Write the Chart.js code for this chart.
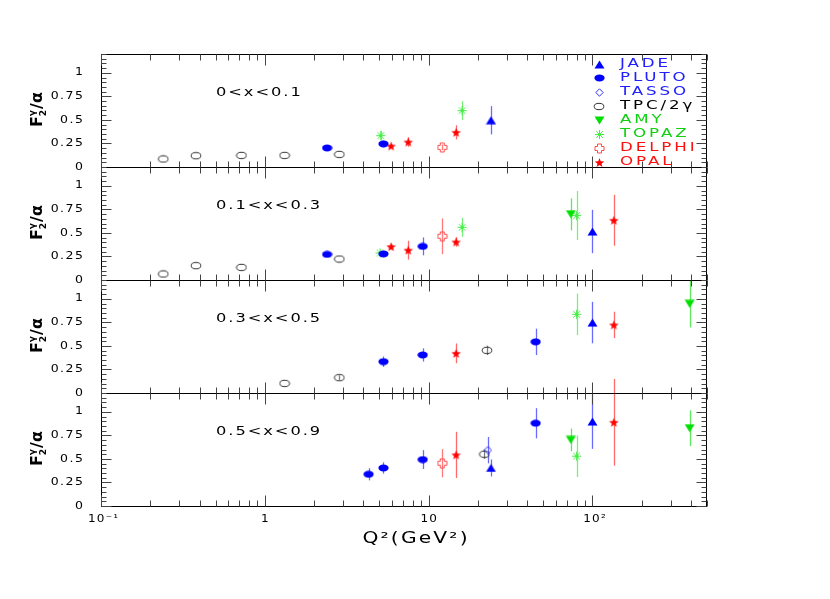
<!DOCTYPE html>
<html><head><meta charset="utf-8">
<script src="https://cdn.jsdelivr.net/npm/chart.js@4"></script>
<style>html,body{margin:0;padding:0;background:#fff;}#wrap{width:830px;height:599px;position:relative;}</style>
</head><body><div id="wrap"><canvas id="c" width="830" height="599"></canvas></div>
<script>
// ---------- data ----------
const BIN_LABELS = ['0<x<0.1', '0.1<x<0.3', '0.3<x<0.5', '0.5<x<0.9'];
const X_TICK_VALUES = [0.1, 1, 10, 100];
const X_TICK_LABELS = ['10⁻¹', '1', '10', '10²'];
const Y_TICK_VALUES = [0, 0.25, 0.5, 0.75, 1];
const Y_TICK_LABELS = ['0', '0.25', '0.5', '0.75', '1'];
const EXPERIMENTS = ['JADE', 'PLUTO', 'TASSO', 'TPC/2γ', 'AMY', 'TOPAZ', 'DELPHI', 'OPAL'];

const JADE_BIN = [0, 1, 2, 3, 3];
const JADE_Q2  = [24, 100, 100, 24, 100];
const JADE_F2  = [0.496, 0.515, 0.748, 0.404, 0.897];
const JADE_ERR = [0.15, 0.23, 0.22, 0.09, 0.29];

const PLUTO_BIN = [0, 0, 1, 1, 1, 2, 2, 2, 3, 3, 3, 3];
const PLUTO_Q2  = [2.4, 5.3, 2.4, 5.3, 9.2, 5.3, 9.2, 45, 4.3, 5.3, 9.2, 45];
const PLUTO_F2  = [0.202, 0.245, 0.272, 0.277, 0.357, 0.333, 0.404, 0.543, 0.337, 0.404, 0.493, 0.879];
const PLUTO_ERR = [0, 0.035, 0, 0.03, 0.095, 0.055, 0.07, 0.14, 0.065, 0.06, 0.1, 0.16];

const TASSO_BIN = [3];
const TASSO_Q2  = [23];
const TASSO_F2  = [0.593];
const TASSO_ERR = [0.14];

const TPC_BIN = [0, 0, 0, 0, 0, 1, 1, 1, 1, 2, 2, 2, 3];
const TPC_Q2  = [0.24, 0.38, 0.72, 1.32, 2.85, 0.24, 0.38, 0.72, 2.85, 1.32, 2.85, 22.7, 21.9];
const TPC_F2  = [0.085, 0.12, 0.123, 0.123, 0.134, 0.064, 0.152, 0.134, 0.223, 0.102, 0.163, 0.453, 0.55];
const TPC_ERR = [0, 0, 0, 0, 0, 0, 0, 0, 0, 0, 0.025, 0.05, 0.05];

const AMY_BIN = [1, 2, 3, 3];
const AMY_Q2  = [73.8, 392, 73.8, 392];
const AMY_F2  = [0.698, 0.947, 0.702, 0.826];
const AMY_ERR = [0.17, 0.25, 0.12, 0.19];

const TOPAZ_BIN = [0, 0, 1, 1, 1, 2, 3];
const TOPAZ_Q2  = [5.1, 16, 5.05, 16, 80, 80, 80];
const TOPAZ_F2  = [0.333, 0.599, 0.287, 0.56, 0.684, 0.836, 0.529];
const TOPAZ_ERR = [0.05, 0.1, 0.02, 0.1, 0.26, 0.22, 0.22];

const DELPHI_BIN = [0, 1, 3];
const DELPHI_Q2  = [12.1, 12.1, 12.1];
const DELPHI_F2  = [0.209, 0.464, 0.454];
const DELPHI_ERR = [0.03, 0.19, 0.15];

const OPAL_BIN = [0, 0, 0, 1, 1, 1, 1, 2, 2, 3, 3];
const OPAL_Q2  = [5.9, 7.5, 14.7, 5.9, 7.5, 14.7, 135, 14.7, 135, 14.7, 135];
const OPAL_F2  = [0.223, 0.265, 0.368, 0.354, 0.317, 0.404, 0.634, 0.421, 0.723, 0.543, 0.889];
const OPAL_ERR = [0.02, 0.05, 0.075, 0.03, 0.1, 0.05, 0.27, 0.105, 0.14, 0.245, 0.46];

// ---------- marker images ----------
function mk(w, h, fn) { const c = document.createElement('canvas'); c.width = w; c.height = h; const g = c.getContext('2d'); fn(g, w, h); return c; }
const BLUE = '#0000ff', RED = '#ff0000', GREEN = '#00e000';
const M = {
  JADE: mk(11, 9, (g, w, h) => { g.fillStyle = BLUE; g.beginPath(); g.moveTo(w / 2, 0.5); g.lineTo(w - 0.5, h - 0.5); g.lineTo(0.5, h - 0.5); g.closePath(); g.fill(); }),
  PLUTO: mk(11, 8, (g, w, h) => { g.fillStyle = BLUE; g.beginPath(); g.ellipse(w / 2, h / 2, 5.1, 3.4, 0, 0, Math.PI * 2); g.fill(); }),
  TASSO: mk(9, 9, (g, w, h) => { g.strokeStyle = '#3030ff'; g.lineWidth = 1; g.beginPath(); g.moveTo(4.5, 0.8); g.lineTo(8.2, 4.5); g.lineTo(4.5, 8.2); g.lineTo(0.8, 4.5); g.closePath(); g.stroke(); }),
  TPC: mk(12, 9, (g, w, h) => { g.strokeStyle = '#333333'; g.lineWidth = 1; g.beginPath(); g.ellipse(w / 2, h / 2, 4.8, 3.2, 0, 0, Math.PI * 2); g.stroke(); }),
  AMY: mk(11, 9, (g, w, h) => { g.fillStyle = GREEN; g.beginPath(); g.moveTo(0.5, 0.5); g.lineTo(w - 0.5, 0.5); g.lineTo(w / 2, h - 0.5); g.closePath(); g.fill(); }),
  TOPAZ: mk(11, 11, (g, w, h) => { g.strokeStyle = '#44ee44'; g.lineWidth = 1; g.beginPath(); const c = 5.5, r = 4.6, d = 3.3;
    g.moveTo(c, c - r); g.lineTo(c, c + r); g.moveTo(c - r, c); g.lineTo(c + r, c); g.moveTo(c - d, c - d); g.lineTo(c + d, c + d); g.moveTo(c - d, c + d); g.lineTo(c + d, c - d); g.stroke(); }),
  DELPHI: mk(11, 11, (g, w, h) => { g.strokeStyle = '#ff4a4a'; g.lineWidth = 1; g.beginPath(); const a = 3.5, b = 7.5, lo = 1, hi = 10;
    g.moveTo(a, lo); g.lineTo(b, lo); g.lineTo(b, a); g.lineTo(hi, a); g.lineTo(hi, b); g.lineTo(b, b); g.lineTo(b, hi); g.lineTo(a, hi); g.lineTo(a, b); g.lineTo(lo, b); g.lineTo(lo, a); g.lineTo(a, a); g.closePath(); g.stroke(); }),
  OPAL: mk(11, 11, (g, w, h) => { g.fillStyle = RED; g.beginPath(); const c = 5.5;
    for (let i = 0; i < 10; i++) { const r = i % 2 ? 2.1 : 5.0; const a = -Math.PI / 2 + i * Math.PI / 5; const px = c + r * Math.cos(a), py = c + 0.5 + r * Math.sin(a); i ? g.lineTo(px, py) : g.moveTo(px, py); }
    g.closePath(); g.fill(); })
};
const ERR_COL = { JADE: '#6a6aff', PLUTO: '#6a6aff', TASSO: '#6a6aff', TPC: '#808080', AMY: '#5fe85f', TOPAZ: '#7aee7a', DELPHI: '#ff7a7a', OPAL: '#ff6a6a' };
const TXT_COL = { JADE: '#2020ff', PLUTO: '#2020ff', TASSO: '#2020ff', TPC: '#000000', AMY: '#10d010', TOPAZ: '#10d010', DELPHI: '#ff1010', OPAL: '#ff1010' };
const KEYS = ['JADE', 'PLUTO', 'TASSO', 'TPC', 'AMY', 'TOPAZ', 'DELPHI', 'OPAL'];
const SRC = {
  JADE: [JADE_BIN, JADE_Q2, JADE_F2, JADE_ERR], PLUTO: [PLUTO_BIN, PLUTO_Q2, PLUTO_F2, PLUTO_ERR],
  TASSO: [TASSO_BIN, TASSO_Q2, TASSO_F2, TASSO_ERR], TPC: [TPC_BIN, TPC_Q2, TPC_F2, TPC_ERR],
  AMY: [AMY_BIN, AMY_Q2, AMY_F2, AMY_ERR], TOPAZ: [TOPAZ_BIN, TOPAZ_Q2, TOPAZ_F2, TOPAZ_ERR],
  DELPHI: [DELPHI_BIN, DELPHI_Q2, DELPHI_F2, DELPHI_ERR], OPAL: [OPAL_BIN, OPAL_Q2, OPAL_F2, OPAL_ERR]
};

const datasets = [];
KEYS.forEach((k, ki) => {
  const [bins, q2, f2, er] = SRC[k];
  for (let b = 0; b < 4; b++) {
    const pts = [];
    bins.forEach((bb, i) => { if (bb === b) pts.push({ x: q2[i], y: f2[i], e: er[i] }); });
    if (!pts.length) continue;
    datasets.push({ label: EXPERIMENTS[ki], key: k, data: pts, yAxisID: 'p' + b, pointStyle: M[k], pointRadius: 5, showLine: false, errColor: ERR_COL[k] });
  }
});

// ---------- text helper ----------
function txt(ctx, s, x, y, o) {
  ctx.save();
  ctx.font = (o.weight || 'normal') + ' ' + o.size + 'px "DejaVu Sans"';
  const sp = o.sp || 0; try { ctx.letterSpacing = sp + 'px'; } catch (e) {}
  ctx.fillStyle = o.color || '#000';
  ctx.textBaseline = o.base || 'middle';
  const sx = o.sx || 1;
  const w = (ctx.measureText(s).width - sp) * sx;
  const x0 = o.align === 'center' ? x - w / 2 : o.align === 'right' ? x - w : x;
  ctx.translate(x0, y); ctx.scale(sx, 1); ctx.fillText(s, 0, 0);
  ctx.restore();
}
function line(ctx, x1, y1, x2, y2) { ctx.beginPath(); ctx.moveTo(x1, y1); ctx.lineTo(x2, y2); ctx.stroke(); }

const deco = {
  id: 'deco',
  beforeDatasetsDraw(chart) {
    const ctx = chart.ctx;
    ctx.save(); ctx.lineWidth = 1.3;
    chart.data.datasets.forEach((ds, i) => {
      const meta = chart.getDatasetMeta(i), ys = chart.scales[ds.yAxisID];
      ctx.strokeStyle = ds.errColor;
      meta.data.forEach((pt, j) => {
        const d = ds.data[j];
        if (!d.e) return;
        const x = Math.round(pt.x) + 0.5;
        line(ctx, x, ys.getPixelForValue(d.y + d.e), x, ys.getPixelForValue(d.y - d.e));
      });
    });
    ctx.restore();
  },
  afterDraw(chart) {
    const ctx = chart.ctx, xs = chart.scales.x, ca = chart.chartArea;
    const L = Math.round(ca.left) + 0.5, R = Math.round(ca.right) - 0.5;
    ctx.save();
    for (let b = 0; b < 4; b++) {
      const ys = chart.scales['p' + b];
      const bot = Math.round(ys.getPixelForValue(0)) + 0.5, top = Math.round(ys.getPixelForValue(1.2)) + 0.5;
      ctx.strokeStyle = '#000'; ctx.lineWidth = 1;
      ctx.strokeRect(L, top, R - L, bot - top);
      ctx.strokeStyle = '#444';
      for (let k = 0; k <= 24; k++) {
        const y = Math.round(ys.getPixelForValue(k * 0.05)) + 0.5, len = k % 5 === 0 ? 10 : 5;
        line(ctx, L, y, L + len, y); line(ctx, R - len, y, R, y);
      }
      for (const d of [0.1, 1, 10, 100]) for (let m = 1; m <= 9; m++) {
        const v = m * d; if (v > 500.01) continue;
        const x = Math.round(xs.getPixelForValue(v)) + 0.5, len = m === 1 ? 11 : 6;
        line(ctx, x, bot, x, bot - len); line(ctx, x, top, x, top + len);
      }
      ys.ticks.forEach((t) => {
        txt(ctx, Y_TICK_LABELS[Y_TICK_VALUES.indexOf(t.value)], 83, ys.getPixelForValue(t.value), { size: 10, sx: 1.25, sp: 1.2, align: 'right' });
      });
      txt(ctx, BIN_LABELS[b], 216, ys.getPixelForValue(0.787), { size: 12.5, sx: 1.3, sp: 1.5 });
      yTitle(ctx, 36, ys.getPixelForValue(0.61));
    }
    xs.ticks.forEach((t, i) => {
      txt(ctx, X_TICK_LABELS[i], xs.getPixelForValue(t.value) + (i === 0 || i === 3 ? 2 : 0), 519, { size: 10, sx: 1.2, sp: 1, align: 'center' });
    });
    txt(ctx, 'Q²(GeV²)', 415, 539, { size: 15, sx: 1.35, sp: 1.6, align: 'center' });
    KEYS.forEach((k, i) => {
      const y = 64 + 14 * i, img = M[k];
      ctx.drawImage(img, Math.round(599 - img.width / 2), Math.round(y - img.height / 2));
      txt(ctx, EXPERIMENTS[i], 620, y, { size: 11.5, sx: 1.45, sp: 2, color: TXT_COL[k] });
    });
    ctx.restore();
  }
};

function yTitle(ctx, cx, cy) {
  ctx.save();
  ctx.translate(cx, cy); ctx.rotate(-Math.PI / 2);
  ctx.fillStyle = '#000'; ctx.textBaseline = 'alphabetic';
  const big = 'bold 16px "DejaVu Sans"', small = 'bold 9px "DejaVu Sans"';
  ctx.font = big; const wF = ctx.measureText('F').width, wS = ctx.measureText('/α').width;
  ctx.font = small; const wsub = Math.max(ctx.measureText('γ').width, ctx.measureText('2').width);
  const total = wF + wsub + wS + 1;
  let x = -total / 2; const base = 6;
  ctx.font = big; ctx.fillText('F', x, base); x += wF;
  ctx.font = small; ctx.fillText('γ', x, base - 7); ctx.fillText('2', x, base + 4); x += wsub + 1;
  ctx.font = big; ctx.fillText('/α', x, base);
  ctx.restore();
}

function yScale(b) {
  return {
    type: 'linear', position: 'left', stack: 'panels', stackWeight: 1, weight: 10 - b,
    min: 0, max: 1.2,
    grid: { display: false, drawTicks: false }, border: { display: false },
    afterBuildTicks: s => { s.ticks = Y_TICK_VALUES.map(v => ({ value: v })); },
    ticks: { display: false },
    afterFit: s => { s.width = 101; }
  };
}

new Chart(document.getElementById('c'), {
  type: 'scatter',
  data: { datasets },
  options: {
    responsive: false, animation: false, events: [],
    layout: { padding: { left: 0, top: 54, right: 123, bottom: 0 } },
    plugins: { legend: { display: false }, tooltip: { enabled: false } },
    scales: {
      x: {
        type: 'logarithmic', position: 'bottom', min: 0.1, max: 500,
        grid: { display: false, drawTicks: false }, border: { display: false },
        afterBuildTicks: s => { s.ticks = X_TICK_VALUES.map(v => ({ value: v })); },
        ticks: { display: false },
        afterFit: s => { s.height = 93; }
      },
      p3: yScale(3), p2: yScale(2), p1: yScale(1), p0: yScale(0)
    }
  },
  plugins: [deco]
});
</script></body></html>
